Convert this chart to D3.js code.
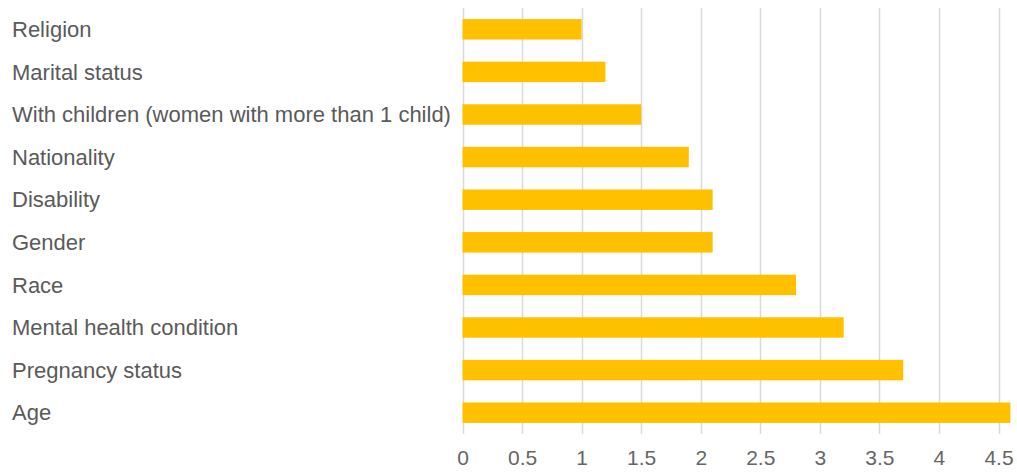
<!DOCTYPE html>
<html>
<head>
<meta charset="utf-8">
<script src="https://cdn.jsdelivr.net/npm/d3@7"></script>
<style>
  body { margin: 0; background: #fff; }
  text { font-family: "Liberation Sans", Arial, sans-serif; }
</style>
</head>
<body>
<div id="chart"></div>
<script>
// categories, top to bottom
var categories = ["Religion", "Marital status", "With children (women with more than 1 child)",
    "Nationality", "Disability", "Gender", "Race", "Mental health condition",
    "Pregnancy status", "Age"];
var values = [1.0, 1.2, 1.5, 1.9, 2.1, 2.1, 2.8, 3.2, 3.7, 4.6];
var tickValues = [0, 0.5, 1, 1.5, 2, 2.5, 3, 3.5, 4, 4.5];

var width = 1017, height = 474;

var svg = d3.select("#chart")
    .append("svg")
    .attr("width", width)
    .attr("height", height);

var x = d3.scaleLinear()
    .domain([0, 4.5])
    .range([462.5, 998.5]);

var y = d3.scaleBand()
    .domain(categories)
    .range([8, 434])
    .paddingInner(0.52)
    .paddingOuter(0.26);

// grid lines
svg.append("g")
    .selectAll("line")
    .data(tickValues)
    .enter().append("line")
    .attr("x1", d => Math.round(x(d)) + 0.5)
    .attr("x2", d => Math.round(x(d)) + 0.5)
    .attr("y1", 8)
    .attr("y2", 434)
    .attr("stroke", "#dadada")
    .attr("stroke-width", 1.5);

// bars
svg.selectAll(".bar")
    .data(values)
    .enter().append("rect")
    .attr("class", "bar")
    .attr("x", x(0))
    .attr("y", (d, i) => y(categories[i]))
    .attr("width", d => x(d) - x(0))
    .attr("height", y.bandwidth())
    .attr("fill", "#ffc000");

// x axis labels
var xAxis = svg.append("g")
    .attr("transform", "translate(0,434)")
    .call(d3.axisBottom(x).tickValues(tickValues).tickSize(0).tickPadding(16).tickFormat(d3.format("")));
xAxis.select(".domain").remove();
xAxis.selectAll("text")
    .style("font-size", "21px")
    .style("font-family", "'Liberation Sans', Arial, sans-serif")
    .attr("fill", "#666");

// category labels
svg.append("g")
    .selectAll("text")
    .data(categories)
    .enter().append("text")
    .attr("x", 12)
    .attr("y", d => y(d) + y.bandwidth() / 2)
    .attr("dy", "0.35em")
    .style("font-size", "22px")
    .attr("fill", "#5a5a5a")
    .text(d => d);
</script>
</body>
</html>
